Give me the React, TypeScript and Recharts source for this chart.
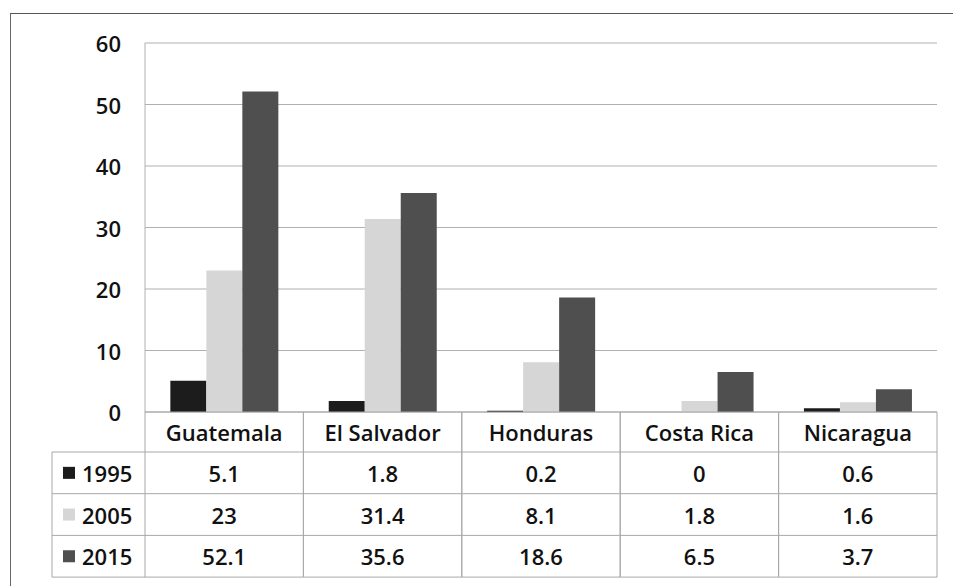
import React from "react";
import { BarChart, Bar, XAxis, YAxis, CartesianGrid } from "recharts";

const countries = ["Guatemala", "El Salvador", "Honduras", "Costa Rica", "Nicaragua"];
const seriesNames = ["1995", "2005", "2015"];
const v1995 = [5.1, 1.8, 0.2, 0, 0.6];
const v2005 = [23, 31.4, 8.1, 1.8, 1.6];
const v2015 = [52.1, 35.6, 18.6, 6.5, 3.7];
const yTicks = [0, 10, 20, 30, 40, 50, 60];

const seriesValues = [v1995, v2005, v2015];
const colors = ["#1c1c1c", "#d6d6d6", "#4f4f4f"];

const data = countries.map((c, i) => ({
  name: c,
  s1995: v1995[i],
  s2005: v2005[i],
  s2015: v2015[i],
}));

const W = 953;
const H = 586;
const M = { top: 43, right: 16, left: 85, bottom: 0 };
const Y_W = 60;
const X_H = 174;
const PLOT_L = M.left + Y_W;
const PLOT_W = W - PLOT_L - M.right;
const ZERO_Y = H - X_H;
const BW = PLOT_W / countries.length;
const HEADER_H = 40;
const ROW_H = 41.7;
const LEG_L = 52;
const FONT = "'Open Sans', 'Noto Sans', sans-serif";
const FS = 22;
const FW = 600;
const BORDER = "#a8a8a8";

const XTick = (props: any) => {
  const { payload, index } = props;
  const cx = payload.coordinate;
  const x0 = cx - BW / 2;
  const x1 = cx + BW / 2;
  const bottom = ZERO_Y + HEADER_H + ROW_H * 3;
  const els: any[] = [];
  els.push(<line key="l" x1={x0} y1={ZERO_Y} x2={x0} y2={bottom} stroke={BORDER} />);
  els.push(<line key="r" x1={x1} y1={ZERO_Y} x2={x1} y2={bottom} stroke={BORDER} />);
  els.push(<line key="t" x1={x0} y1={ZERO_Y} x2={x1} y2={ZERO_Y} stroke={BORDER} />);
  for (let r = 0; r <= 3; r++) {
    const y = ZERO_Y + HEADER_H + ROW_H * r;
    els.push(<line key={"h" + r} x1={x0} y1={y} x2={x1} y2={y} stroke={BORDER} />);
  }
  els.push(
    <text key="n" x={cx} y={ZERO_Y + HEADER_H / 2} textAnchor="middle" dominantBaseline="central"
      fontFamily={FONT} fontSize={FS} fontWeight={FW} fill="#111">{payload.value}</text>
  );
  seriesValues.forEach((vals, r) => {
    els.push(
      <text key={"v" + r} x={cx} y={ZERO_Y + HEADER_H + ROW_H * r + ROW_H / 2} textAnchor="middle"
        dominantBaseline="central" fontFamily={FONT} fontSize={FS} fontWeight={FW} fill="#111">{String(vals[index])}</text>
    );
  });
  if (index === 0) {
    const lx0 = LEG_L;
    els.push(<line key="ll" x1={lx0} y1={ZERO_Y + HEADER_H} x2={lx0} y2={bottom} stroke={BORDER} />);
    for (let r = 0; r <= 3; r++) {
      const y = ZERO_Y + HEADER_H + ROW_H * r;
      els.push(<line key={"lh" + r} x1={lx0} y1={y} x2={x0} y2={y} stroke={BORDER} />);
    }
    seriesNames.forEach((s, r) => {
      const yc = ZERO_Y + HEADER_H + ROW_H * r + ROW_H / 2;
      els.push(<rect key={"sw" + r} x={lx0 + 11} y={yc - 6} width={12} height={12} fill={colors[r]} />);
      els.push(
        <text key={"sn" + r} x={lx0 + 30} y={yc} dominantBaseline="central" fontFamily={FONT}
          fontSize={FS} fontWeight={FW} fill="#111">{s}</text>
      );
    });
  }
  return <g>{els}</g>;
};

const YTick = (props: any) => {
  const { payload, y } = props;
  return (
    <text x={121} y={y} textAnchor="end" dominantBaseline="central" fontFamily={FONT} fontSize={FS} fontWeight={FW} fill="#111">
      {payload.value}
    </text>
  );
};

export default function App() {
  return (
    <div style={{ position: "absolute", left: 0, top: 0, width: W, height: H, background: "#fff", overflow: "hidden" }}>
      <div style={{ position: "absolute", left: 10, top: 13, width: W + 20, height: H + 20, borderTop: "1.5px solid #555", borderLeft: "1.5px solid #666" }} />
      <BarChart width={W} height={H} data={data} margin={M} barCategoryGap="16%" barGap={0}>
        <CartesianGrid vertical={false} stroke="#b0b0b0" />
        <XAxis dataKey="name" height={X_H} axisLine={false} tickLine={false} tick={<XTick />} interval={0} />
        <YAxis width={Y_W} domain={[0, 60]} ticks={yTicks} axisLine={{ stroke: "#b0b0b0" }} tickLine={false} tick={<YTick />} />
        <Bar dataKey="s1995" fill={colors[0]} isAnimationActive={false} />
        <Bar dataKey="s2005" fill={colors[1]} isAnimationActive={false} />
        <Bar dataKey="s2015" fill={colors[2]} isAnimationActive={false} />
      </BarChart>
    </div>
  );
}
